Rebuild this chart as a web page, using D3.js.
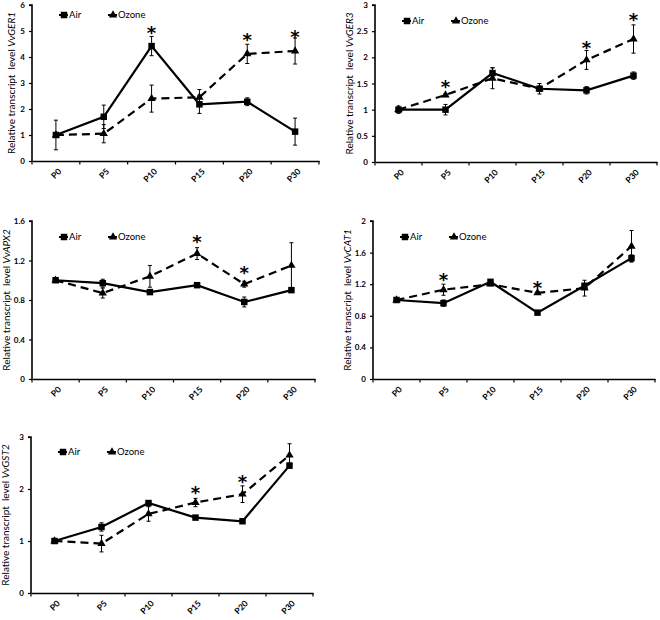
<!DOCTYPE html>
<html>
<head>
<meta charset="utf-8">
<script src="https://cdn.jsdelivr.net/npm/d3@7"></script>
<style>
  html, body { margin: 0; padding: 0; background: #fff; }
  svg { display: block; }
  text { font-family: Lato, "Open Sans", "Liberation Sans", sans-serif; fill: #000; }
</style>
</head>
<body>
<svg id="chart" width="660" height="620"></svg>
<script>
// ---------- data ----------
const categories = ["P0", "P5", "P10", "P15", "P20", "P30"];
const seriesNames = ["Air", "Ozone"];

const ger1Air      = [1.00, 1.70, 4.42, 2.18, 2.28, 1.13];
const ger1AirErr   = [0.57, 0.45, 0.37, 0.35, 0.15, 0.52];
const ger1Ozone    = [1.00, 1.05, 2.40, 2.45, 4.12, 4.23];
const ger1OzoneErr = [0.05, 0.35, 0.52, 0.30, 0.37, 0.50];
const ger1Stars    = [[2, 5.10], [4, 4.85], [5, 4.95]];
const ger1Ticks    = [0, 1, 2, 3, 4, 5, 6];

const ger3Air      = [1.00, 1.00, 1.70, 1.40, 1.37, 1.65];
const ger3AirErr   = [0.07, 0.10, 0.10, 0.10, 0.07, 0.07];
const ger3Ozone    = [1.00, 1.28, 1.60, 1.40, 1.95, 2.35];
const ger3OzoneErr = [0.03, 0.03, 0.20, 0.05, 0.18, 0.27];
const ger3Stars    = [[1, 1.52], [4, 2.28], [5, 2.80]];
const ger3Ticks    = [0, 0.5, 1, 1.5, 2, 2.5, 3];

const apx2Air      = [1.00, 0.97, 0.88, 0.95, 0.78, 0.90];
const apx2AirErr   = [0.02, 0.04, 0.02, 0.01, 0.05, 0.02];
const apx2Ozone    = [1.00, 0.87, 1.04, 1.27, 0.96, 1.15];
const apx2OzoneErr = [0.02, 0.05, 0.11, 0.06, 0.03, 0.23];
const apx2Stars    = [[3, 1.44], [4, 1.12]];
const apx2Ticks    = [0, 0.4, 0.8, 1.2, 1.6];

const cat1Air      = [1.00, 0.96, 1.23, 0.84, 1.18, 1.53];
const cat1AirErr   = [0.01, 0.04, 0.02, 0.01, 0.03, 0.04];
const cat1Ozone    = [1.00, 1.13, 1.20, 1.09, 1.15, 1.68];
const cat1OzoneErr = [0.01, 0.07, 0.02, 0.01, 0.10, 0.20];
const cat1Stars    = [[1, 1.32], [3, 1.21]];
const cat1Ticks    = [0, 0.4, 0.8, 1.2, 1.6, 2];

const gst2Air      = [1.00, 1.27, 1.73, 1.45, 1.38, 2.45];
const gst2AirErr   = [0.02, 0.08, 0.03, 0.02, 0.02, 0.05];
const gst2Ozone    = [1.00, 0.95, 1.52, 1.74, 1.90, 2.65];
const gst2OzoneErr = [0.02, 0.16, 0.14, 0.08, 0.16, 0.22];
const gst2Stars    = [[3, 2.02], [4, 2.23]];
const gst2Ticks    = [0, 1, 2, 3];

// ---------- layout (positions only) ----------
const panels = [
  { gene: "VvGER1", air: ger1Air, airErr: ger1AirErr, oz: ger1Ozone, ozErr: ger1OzoneErr, stars: ger1Stars, ticks: ger1Ticks,
    x0: 32, x1: 319, yTop: 5, yBot: 161, legDy: 10, labDx: -17 },
  { gene: "VvGER3", air: ger3Air, airErr: ger3AirErr, oz: ger3Ozone, ozErr: ger3OzoneErr, stars: ger3Stars, ticks: ger3Ticks,
    x0: 375, x1: 657, yTop: 5, yBot: 162, legDy: 16, labDx: -22 },
  { gene: "VvAPX2", air: apx2Air, airErr: apx2AirErr, oz: apx2Ozone, ozErr: apx2OzoneErr, stars: apx2Stars, ticks: apx2Ticks,
    x0: 32, x1: 315, yTop: 221, yBot: 379, legDy: 16, labDx: -22 },
  { gene: "VvCAT1", air: cat1Air, airErr: cat1AirErr, oz: cat1Ozone, ozErr: cat1OzoneErr, stars: cat1Stars, ticks: cat1Ticks,
    x0: 373, x1: 655, yTop: 221, yBot: 379, legDy: 16, labDx: -22 },
  { gene: "VvGST2", air: gst2Air, airErr: gst2AirErr, oz: gst2Ozone, ozErr: gst2OzoneErr, stars: gst2Stars, ticks: gst2Ticks,
    x0: 31, x1: 313, yTop: 437, yBot: 593, legDy: 15, labDx: -22 }
];

const svg = d3.select("#chart");
const sqSym = d3.symbol().type(d3.symbolSquare).size(42);
const triSym = d3.symbol().type(d3.symbolTriangle).size(30);

panels.forEach(p => {
  const g = svg.append("g");
  const x = d3.scaleBand().domain(categories).range([p.x0, p.x1]).padding(0);
  const y = d3.scaleLinear().domain([0, d3.max(p.ticks)]).range([p.yBot, p.yTop]);
  const cx = c => x(c) + x.bandwidth() / 2;

  // y axis
  const yAxis = d3.axisLeft(y).tickValues(p.ticks).tickSize(3).tickPadding(4)
    .tickFormat(d => String(+d.toFixed(2)));
  const ya = g.append("g").attr("transform", `translate(${p.x0},0)`).call(yAxis);
  ya.select(".domain").attr("stroke", "#000").attr("stroke-width", 1.6).attr("d", `M-3,${p.yTop}H0V${p.yBot}`);
  ya.selectAll(".tick line").attr("stroke", "#000").attr("stroke-width", 1.2);
  ya.selectAll(".tick text").attr("font-size", 8).attr("font-weight", "bold").attr("fill", "#000");

  // x axis line via axis, boundary ticks and rotated labels drawn from the band scale
  const xAxis = d3.axisBottom(x).tickSize(0).tickFormat("");
  const xa = g.append("g").attr("transform", `translate(0,${p.yBot})`).call(xAxis);
  xa.select(".domain").attr("stroke", "#000").attr("stroke-width", 1.6);
  const bounds = categories.map(c => x(c)).concat([p.x1]);
  g.selectAll(".btick").data(bounds).join("line")
    .attr("x1", d => d).attr("x2", d => d)
    .attr("y1", p.yBot).attr("y2", p.yBot + 3.5)
    .attr("stroke", "#000").attr("stroke-width", 1.2);
  g.selectAll(".xlab").data(categories).join("text")
    .attr("text-anchor", "end")
    .attr("font-size", 8.5).attr("font-weight", "bold")
    .attr("dy", "0.35em")
    .attr("transform", c => `translate(${cx(c) + 4},${p.yBot + 9}) rotate(-45)`)
    .text(c => c);

  // y label
  const lab = g.append("text")
    .attr("transform", `translate(${p.x0 + p.labDx},${(p.yTop + p.yBot) / 2}) rotate(-90)`)
    .attr("text-anchor", "middle").attr("font-size", 10);
  lab.append("tspan").text("Relative transcript\u00a0 level ");
  lab.append("tspan").attr("font-style", "italic").text(p.gene);

  const line = d3.line().x((d, i) => cx(categories[i])).y(d => y(d));

  const series = [
    { vals: p.air, err: p.airErr, dash: null, sym: sqSym },
    { vals: p.oz, err: p.ozErr, dash: "8,5", sym: triSym }
  ];

  series.forEach(s => {
    const eb = g.append("g");
    s.vals.forEach((v, i) => {
      const xc = cx(categories[i]);
      const lo = y(v - s.err[i]), hi = y(v + s.err[i]);
      eb.append("line").attr("x1", xc).attr("x2", xc).attr("y1", lo).attr("y2", hi)
        .attr("stroke", "#000").attr("stroke-width", 1);
      [lo, hi].forEach(yy => eb.append("line").attr("x1", xc - 2).attr("x2", xc + 2)
        .attr("y1", yy).attr("y2", yy).attr("stroke", "#000").attr("stroke-width", 1));
    });
    g.append("path").datum(s.vals).attr("d", line)
      .attr("fill", "none").attr("stroke", "#000").attr("stroke-width", 2.2)
      .attr("stroke-dasharray", s.dash);
    g.selectAll(null).data(s.vals).join("path")
      .attr("d", s.sym)
      .attr("transform", (d, i) => `translate(${cx(categories[i])},${y(d)})`)
      .attr("fill", "#000");
  });

  // significance stars
  g.selectAll(".star").data(p.stars).join("text")
    .attr("x", d => cx(categories[d[0]]))
    .attr("y", d => y(d[1]) + 11)
    .attr("text-anchor", "middle")
    .style("font-family", "'DejaVu Sans', sans-serif")
    .attr("font-size", 18).attr("font-weight", "bold")
    .text("*");

  // legend
  const ly = p.yTop + p.legDy;
  const legX = [p.x0 + 27, p.x0 + 76];
  seriesNames.forEach((name, k) => {
    const lx = legX[k];
    g.append("line").attr("x1", lx).attr("x2", lx + 9).attr("y1", ly).attr("y2", ly)
      .attr("stroke", "#000").attr("stroke-width", 2);
    g.append("path").attr("d", k === 0 ? sqSym : triSym)
      .attr("transform", `translate(${lx + 5},${ly})`).attr("fill", "#000");
    g.append("text").attr("x", lx + 10).attr("y", ly).attr("dy", "0.35em")
      .attr("font-size", 9.5).text(name);
  });
});
</script>
</body>
</html>
